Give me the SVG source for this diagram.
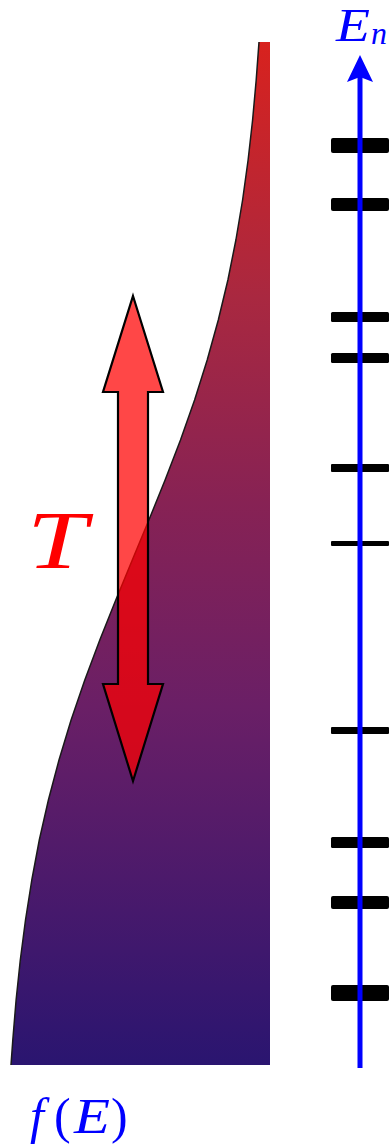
<svg xmlns="http://www.w3.org/2000/svg" width="389" height="1144" viewBox="0 0 389 1144">
  <style>
    .lbl { font-family: "Liberation Serif", "DejaVu Serif", serif; }
    .it { font-style: italic; }
    .blue { fill: #0000ff; }
    .tick { fill: #000000; }
  </style>
  <defs>
    <linearGradient id="fd" gradientUnits="userSpaceOnUse" x1="0" y1="42" x2="0" y2="1065">
      <stop offset="0" stop-color="#d8221e"/>
      <stop offset="0.25" stop-color="#a92840"/>
      <stop offset="0.45" stop-color="#872254"/>
      <stop offset="0.65" stop-color="#6a1f66"/>
      <stop offset="0.85" stop-color="#46196c"/>
      <stop offset="1" stop-color="#2a1570"/>
    </linearGradient>
  </defs>
  <rect width="389" height="1144" fill="#ffffff"/>

  <g id="distribution">
    <path d="M11,1065 L12.8,1040 L16.1,1000 L20.3,960 L25.5,920 L31.8,880 L39.3,840 L48.4,800 L59,760 L71.1,720 L84.8,680 L99.8,640 L115.8,600 L132.3,560 L148.9,520 L165.1,480 L180.5,440 L194.6,400 L207.2,360 L218.3,320 L227.9,280 L235.9,240 L242.6,200 L248.1,160 L252.6,120 L256.2,80 L259,42 L270,42 L270,1065 Z" fill="url(#fd)"/>
    <path d="M11,1065 L12.8,1040 L16.1,1000 L20.3,960 L25.5,920 L31.8,880 L39.3,840 L48.4,800 L59,760 L71.1,720 L84.8,680 L99.8,640 L115.8,600 L132.3,560 L148.9,520 L165.1,480 L180.5,440 L194.6,400 L207.2,360 L218.3,320 L227.9,280 L235.9,240 L242.6,200 L248.1,160 L252.6,120 L256.2,80 L259,42" fill="none" stroke="#1a1a1a" stroke-width="1.5" stroke-linejoin="round"/>
  </g>

  <g id="arrow-T">
    <polygon points="133,296 163,392 148,392 148,684 163,684 133,781 103,684 118,684 118,392 103,392" fill="#ff0000" fill-opacity="0.72" stroke="#000000" stroke-width="2.2" stroke-linejoin="miter"/>
  </g>

  <g id="label-T">
    <text class="lbl it" x="27" y="568" font-size="82" fill="#ff0000" textLength="60" lengthAdjust="spacingAndGlyphs">T</text>
  </g>

  <g id="levels">
    <rect class="tick" x="331" y="138" width="58" height="15" rx="2"/>
    <rect class="tick" x="331" y="198" width="58" height="13" rx="2"/>
    <rect class="tick" x="331" y="312" width="58" height="10" rx="1.5"/>
    <rect class="tick" x="331" y="353" width="58" height="10" rx="1.5"/>
    <rect class="tick" x="331" y="464" width="58" height="8" rx="1"/>
    <rect class="tick" x="331" y="541" width="58" height="5" rx="1"/>
    <rect class="tick" x="331" y="727" width="58" height="7" rx="1"/>
    <rect class="tick" x="331" y="837" width="58" height="11" rx="1.5"/>
    <rect class="tick" x="331" y="896" width="58" height="13" rx="2"/>
    <rect class="tick" x="331" y="985" width="58" height="16" rx="2"/>
  </g>

  <g id="axis">
    <line x1="360" y1="1068" x2="360" y2="76" stroke="#0000ff" stroke-width="5"/>
    <path d="M360,55 L373,82 L360,77 L347,82 Z" fill="#0000ff"/>
  </g>

  <g id="label-En">
    <text class="lbl it blue" x="336" y="41" font-size="46" textLength="34" lengthAdjust="spacingAndGlyphs">E</text>
    <text class="lbl it blue" x="371" y="44" font-size="32">n</text>
  </g>

  <g id="label-fE">
    <text class="lbl it blue" x="30" y="1133" font-size="50">f</text>
    <text class="lbl blue" x="54" y="1133" font-size="50">(</text>
    <text class="lbl it blue" x="74" y="1133" font-size="50" textLength="36" lengthAdjust="spacingAndGlyphs">E</text>
    <text class="lbl blue" x="111" y="1133" font-size="50">)</text>
  </g>
</svg>
